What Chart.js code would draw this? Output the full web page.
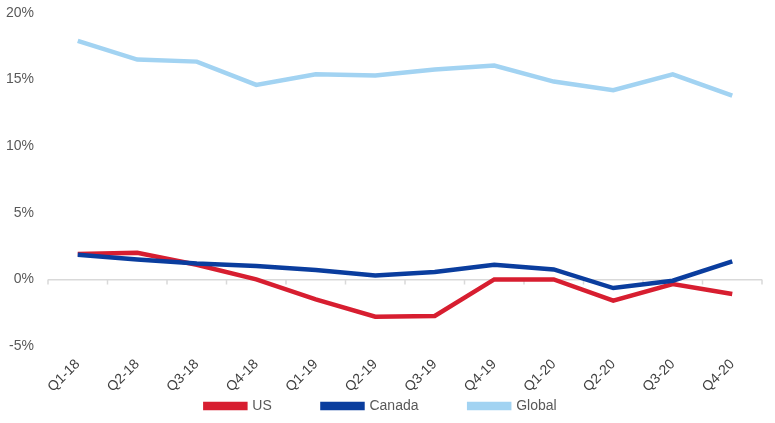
<!DOCTYPE html>
<html>
<head>
<meta charset="utf-8">
<script src="https://cdn.jsdelivr.net/npm/chart.js@4"></script>
<style>
  html, body { margin: 0; padding: 0; background: #fff; }
  #wrap { width: 775px; height: 423px; }
</style>
</head>
<body>
<div id="wrap"><canvas id="myChart"></canvas></div>
<script>
const quarters = ["Q1-18", "Q2-18", "Q3-18", "Q4-18", "Q1-19", "Q2-19",
  "Q3-19", "Q4-19", "Q1-20", "Q2-20", "Q3-20", "Q4-20"];
const usValues = [1.9, 2.0, 1.1, 0.0, -1.5, -2.8, -2.75, 0.0, 0.0, -1.6, -0.35, -1.1];
const canadaValues = [1.85, 1.5, 1.2, 1.0, 0.7, 0.3, 0.55, 1.1, 0.75, -0.65, -0.1, 1.35];
const globalValues = [17.9, 16.5, 16.35, 14.6, 15.4, 15.3, 15.75, 16.05, 14.85, 14.2, 15.4, 13.8];
const yTicks = [-5, 0, 5, 10, 15, 20];

Chart.defaults.font.family = "'Liberation Sans', Arial, sans-serif";
Chart.defaults.font.size = 14;
Chart.defaults.color = "#595959";

// small tick marks hanging under the zero line, at the category borders
const zeroTicks = {
  id: "zeroTicks",
  beforeDatasetsDraw(chart) {
    const x = chart.scales.x;
    const y = chart.scales.y;
    const y0 = y.getPixelForValue(0);
    const ctx = chart.ctx;
    const step = x.getPixelForValue(1) - x.getPixelForValue(0);
    ctx.save();
    ctx.strokeStyle = "#d9d9d9";
    ctx.lineWidth = 1.5;
    ctx.beginPath();
    for (let i = 0; i <= quarters.length; i++) {
      const px = x.getPixelForValue(0) - step / 2 + i * step;
      ctx.moveTo(px, y0);
      ctx.lineTo(px, y0 + 5);
    }
    ctx.stroke();
    ctx.restore();
  },
};

// legend items sit far apart but the legend row itself is short,
// so the gap goes in as trailing spaces instead of label padding
const legendGap = "            ";

var chartBox = document.getElementById("myChart");
var chart1 = new Chart(chartBox, {
  type: "line",
  data: {
    labels: quarters,
    datasets: [
      {
        label: "US",
        data: usValues,
        borderColor: "#d71e30",
        backgroundColor: "#d71e30",
        borderWidth: 4.5,
        pointRadius: 0,
        order: 2,
      },
      {
        label: "Canada",
        data: canadaValues,
        borderColor: "#0a3d9e",
        backgroundColor: "#0a3d9e",
        borderWidth: 4.5,
        pointRadius: 0,
        order: 1,
      },
      {
        label: "Global",
        data: globalValues,
        borderColor: "#a2d3f2",
        backgroundColor: "#a2d3f2",
        borderWidth: 4.5,
        pointRadius: 0,
        order: 3,
      },
    ],
  },
  options: {
    responsive: true,
    maintainAspectRatio: false,
    animation: false,
    layout: {
      padding: { top: 13, right: 13, left: 0, bottom: 0 },
    },
    plugins: {
      legend: {
        position: "bottom",
        labels: {
          boxWidth: 40,
          boxHeight: 4,
          padding: 4,
          color: "#595959",
          font: { size: 14 },
          sort: (a, b) => a.datasetIndex - b.datasetIndex,
          generateLabels(chart) {
            const items = Chart.defaults.plugins.legend.labels.generateLabels(chart);
            items.forEach((it, i) => {
              if (i < items.length - 1) it.text = it.text + legendGap;
            });
            return items;
          },
        },
      },
      tooltip: { enabled: false },
    },
    scales: {
      x: {
        offset: true,
        grid: { display: false },
        border: { display: false },
        afterFit(scale) {
          scale.height = 49;
        },
        ticks: {
          autoSkip: false,
          maxRotation: 45,
          minRotation: 45,
          padding: 2,
          color: "#404040",
          font: { size: 14 },
        },
      },
      y: {
        min: -5,
        max: 20,
        afterBuildTicks(scale) {
          scale.ticks = yTicks.map((v) => ({ value: v }));
        },
        afterFit(scale) {
          scale.width = 48;
          scale.paddingTop = 0;
          scale.paddingBottom = 0;
        },
        grid: {
          drawTicks: false,
          color: (c) => (c.tick && c.tick.value === 0 ? "#d9d9d9" : "transparent"),
          lineWidth: 1.5,
        },
        border: { display: false },
        ticks: {
          padding: 14,
          callback: (v) => v + "%",
        },
      },
    },
  },
  plugins: [zeroTicks],
});
</script>
</body>
</html>
